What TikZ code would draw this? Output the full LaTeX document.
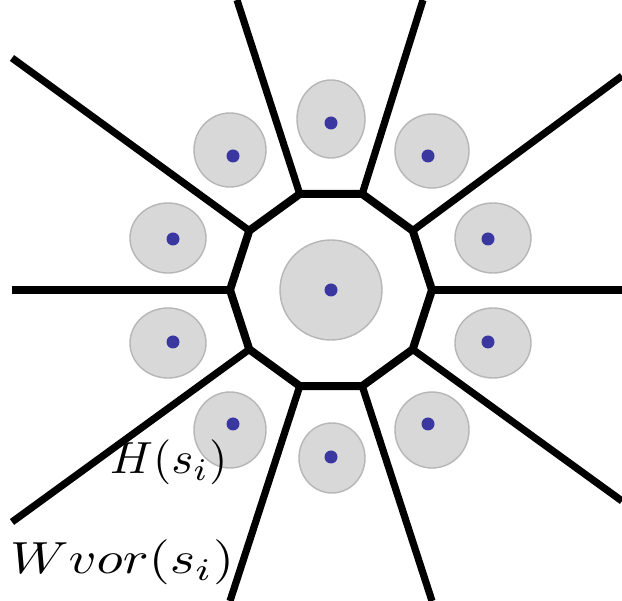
\documentclass[tikz,border=0pt]{standalone}
\usepackage{graphicx}
\usetikzlibrary{shapes.geometric}
\definecolor{blobfill}{RGB}{216,216,216}
\definecolor{blobline}{RGB}{182,182,182}
\definecolor{dotblue}{RGB}{58,56,160}
\tikzset{
  blob/.style={ellipse, fill=blobfill, draw=blobline, line width=1.4pt, inner sep=0pt},
  site/.style={circle, fill=dotblue, inner sep=0pt, minimum size=13pt},
  wall/.style={line width=7.2pt, line join=round},
  lbl/.style={anchor=base west, inner sep=0pt}
}
\begin{document}
\begin{tikzpicture}[x=1pt,y=-1pt]
\useasboundingbox (0,0) rectangle (622,601);
\fill[white] (0,0) rectangle (622,601);
% outer regions
\node[blob, minimum width=68pt, minimum height=78pt] (b0) at (331,119) {};
\node[blob, minimum width=72pt, minimum height=74pt] (b1) at (230,150) {};
\node[blob, minimum width=74pt, minimum height=74pt] (b2) at (432,151) {};
\node[blob, minimum width=76pt, minimum height=70pt] (b3) at (168,238) {};
\node[blob, minimum width=76pt, minimum height=70pt] (b4) at (493,238) {};
\node[blob, minimum width=76pt, minimum height=70pt] (b5) at (168,343) {};
\node[blob, minimum width=76pt, minimum height=70pt] (b6) at (493,343) {};
\node[blob, minimum width=72pt, minimum height=76pt] (b7) at (230,430) {};
\node[blob, minimum width=74pt, minimum height=76pt] (b8) at (432,430) {};
\node[blob, minimum width=66pt, minimum height=70pt] (b9) at (332,458) {};
\node[blob, minimum width=102pt, minimum height=100pt] (bc) at (331,290) {};
% sites
\node[site] (s0) at (331,123) {};
\node[site] (s1) at (233,156) {};
\node[site] (s2) at (428,156) {};
\node[site] (s3) at (173,239) {};
\node[site] (s4) at (488,239) {};
\node[site] (s5) at (173,342) {};
\node[site] (s6) at (488,342) {};
\node[site] (s7) at (233,424) {};
\node[site] (s8) at (428,424) {};
\node[site] (s9) at (331,457) {};
\node[site] (sc) at (331,290) {};
% decagon vertices
\foreach \k in {0,...,9}{
  \coordinate (v\k) at ({331+101*cos(36*\k)},{290-101*sin(36*\k)});
}
% spoke ends
\coordinate (e0) at (622,290);
\coordinate (e1) at (622,76);
\coordinate (e2) at (423,0);
\coordinate (e3) at (237,0);
\coordinate (e4) at (12,58);
\coordinate (e5) at (12,290);
\coordinate (e6) at (12,522);
\coordinate (e7) at (230,601);
\coordinate (e8) at (432,601);
\coordinate (e9) at (622,501);
\draw[wall, line width=8pt] (v0) -- (v1) -- (v2) -- (v3) -- (v4) -- (v5) -- (v6) -- (v7) -- (v8) -- (v9) -- cycle;
\foreach \k in {0,...,9}{
  \draw[wall] (v\k) -- (e\k);
}
% labels
\node[lbl] (tH) at (110,474) {\scalebox{4.7}[4.5]{$H(s_i)$}};
\node[lbl] (tW) at (10,574) {\scalebox{5.4}[4.5]{$Wvor(s_i)$}};
\end{tikzpicture}
\end{document}
